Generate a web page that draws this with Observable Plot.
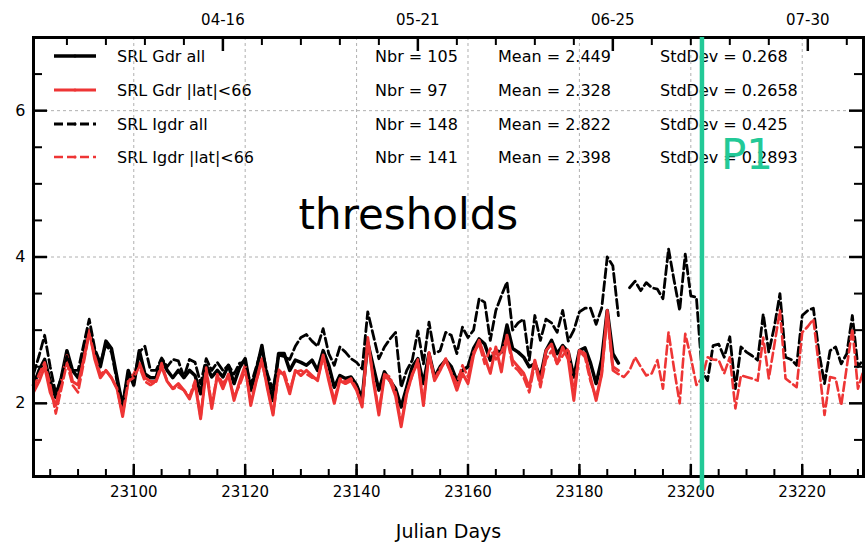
<!DOCTYPE html>
<html>
<head>
<meta charset="utf-8">
<script src="https://cdn.jsdelivr.net/npm/d3@7"></script>
<script src="https://cdn.jsdelivr.net/npm/@observablehq/plot@0.6"></script>
<style>
  html, body { margin: 0; padding: 0; background: #fff; }
  #chart svg { display: block; }
</style>
</head>
<body>
<div id="chart"></div>
<script>
// ---------- data ----------
const gdrStart = 23082;   // first day of the Gdr series
const igdrStart = 23082;  // first day of the Igdr series

const gdrAll = [
  2.25, 2.45, 2.6, 2.3, 2.08, 2.35, 2.72, 2.45, 2.35, 2.65, 3.0, 2.7, 2.5, 2.85, 2.75, 2.35, 1.95, 2.45, 2.25, 2.72, 2.4, 2.35, 2.35, 2.6, 2.45, 2.35,
  2.45, 2.35, 2.45, 2.38, 2.13, 2.52, 2.36, 2.45, 2.36, 2.52, 2.27, 2.49, 2.61, 2.18, 2.45, 2.79, 2.31, 2.04, 2.68, 2.68, 2.45, 2.59, 2.56, 2.52, 2.59,
  2.45, 2.72, 2.52, 2.22, 2.38, 2.34, 2.36, 2.25, 2.06, 2.83, 2.5, 2.18, 2.43, 2.31, 2.2, 1.95, 2.22, 2.5, 2.61, 2.27, 2.68, 2.36, 2.5, 2.59, 2.5,
  2.31, 2.45, 2.5, 2.75, 2.88, 2.81, 2.59, 2.72, 2.7, 3.07, 2.75, 2.7, 2.63, 2.5, 2.54, 2.36, 2.72, 2.86, 2.68, 2.79, 2.7, 2.36, 2.72, 2.76, 2.55, 2.27, 2.6, 3.27, 2.68, 2.55
];
const gdrLat = [
  2.15, 2.3, 2.5, 2.15, 1.97, 2.3, 2.65, 2.3, 2.25, 2.6, 3.0, 2.6, 2.35, 2.45, 2.35, 2.2, 1.82, 2.3, 2.4, 2.55, 2.35, 2.3, 2.3, 2.5, 2.3, 2.2,
  2.27, 2.18, 2.06, 2.27, 1.79, 2.45, 1.93, 2.38, 2.2, 2.4, 2.04, 2.3, 2.52, 1.97, 2.31, 2.61, 2.2, 1.84, 2.46, 2.38, 2.13, 2.45, 2.38, 2.45, 2.38,
  2.31, 2.66, 2.31, 2.0, 2.31, 2.27, 2.31, 2.18, 1.95, 2.9, 2.31, 1.84, 2.38, 2.31, 2.1, 1.68, 2.13, 2.4, 2.56, 1.97, 2.68, 2.31, 2.45, 2.61, 2.4,
  2.18, 2.41, 2.27, 2.66, 2.86, 2.63, 2.41, 2.77, 2.43, 2.93, 2.59, 2.5, 2.41, 2.22, 2.59, 2.27, 2.72, 2.81, 2.54, 2.77, 2.6, 2.04, 2.72, 2.68, 2.35, 2.04, 2.4, 3.27, 2.5, 2.45
];
const igdrAll = [
  2.4, 2.65, 2.93, 2.5, 2.13, 2.35, 2.65, 2.45, 2.45, 2.8, 3.15, 2.75, 2.55, 2.8, 2.7, 2.3, 2.0, 2.4, 2.3, 2.7, 2.78, 2.45, 2.45, 2.62, 2.5, 2.6,
  2.58, 2.36, 2.6, 2.56, 2.27, 2.61, 2.45, 2.56, 2.45, 2.52, 2.4, 2.55, 2.56, 2.25, 2.5, 2.75, 2.4, 2.18, 2.66, 2.64, 2.6, 2.78, 2.9, 2.94, 2.85,
  2.78, 3.02, 2.68, 2.52, 2.77, 2.7, 2.61, 2.56, 2.47, 3.25, 2.93, 2.61, 2.77, 2.88, 2.97, 2.22, 2.45, 2.59, 2.99, 2.54, 3.11, 2.68, 2.72, 2.97, 2.93,
  2.68, 3.04, 2.9, 3.0, 3.43, 3.38, 2.86, 3.27, 3.47, 3.66, 3.0, 3.1, 3.15, 2.59, 3.2, 2.86, 3.15, 3.1, 2.97, 3.27, 2.85, 3.0, 3.25, 3.3, 3.3, 3.08, 3.3, 4.0, 3.88, 3.2,
  null, 3.58, 3.67, 3.54, 3.65, 3.58, 3.56, 3.43, 4.11, 3.68, 3.27, 4.04, 3.47, 3.45, 2.45, 2.31, 2.79, 2.81, 2.63, 2.91, 2.2,
  2.77, 2.7, 2.65, 2.59, 3.22, 2.7, 3.05, 3.5, 2.63, 2.6, 2.52, 3.2, 3.27, 3.3, 2.7, 2.27, 2.72, 2.77, 2.54, 2.68, 3.2, 2.5, 2.6
];
const igdrLat = [
  2.2, 2.4, 2.56, 2.25, 1.86, 2.2, 2.55, 2.25, 2.15, 2.55, 2.95, 2.65, 2.4, 2.45, 2.35, 2.2, 1.85, 2.3, 2.35, 2.5, 2.3, 2.25, 2.3, 2.55, 2.3, 2.2,
  2.22, 2.18, 2.09, 2.31, 1.81, 2.49, 1.97, 2.4, 2.27, 2.38, 2.09, 2.25, 2.45, 2.04, 2.31, 2.56, 2.22, 1.86, 2.4, 2.43, 2.18, 2.43, 2.45, 2.4, 2.35,
  2.34, 2.62, 2.35, 2.04, 2.34, 2.3, 2.34, 2.2, 1.97, 2.85, 2.35, 1.88, 2.4, 2.36, 2.15, 1.72, 2.15, 2.38, 2.6, 2.0, 2.7, 2.33, 2.48, 2.57, 2.42,
  2.27, 2.52, 2.36, 2.7, 2.81, 2.54, 2.75, 2.6, 2.7, 2.9, 2.52, 2.45, 2.35, 2.15, 2.54, 2.22, 2.6, 2.72, 2.54, 2.65, 2.75, 2.13, 2.72, 2.63, 2.3, 2.08, 2.4, 3.2, 2.45, 2.4,
  2.36, 2.45, 2.63, 2.5, 2.38, 2.41, 2.59, 2.2, 2.97, 2.47, 2.0, 2.95, 2.63, 2.25, 2.34, 2.63, 2.6, 2.59, 2.41, 2.63, 1.93,
  2.38, 2.36, 2.34, 2.31, 2.9, 2.34, 2.8, 3.27, 2.34, 2.28, 2.22, 2.97, 3.05, 3.15, 2.5, 1.84, 2.36, 2.34, 1.97, 2.5, 3.02, 2.2, 2.45
];

const seriesNames = ["SRL Gdr all", "SRL Gdr |lat|<66", "SRL Igdr all", "SRL Igdr |lat|<66"];
const nbrTexts = ["Nbr = 105", "Nbr = 97", "Nbr = 148", "Nbr = 141"];
const meanTexts = ["Mean = 2.449", "Mean = 2.328", "Mean = 2.822", "Mean = 2.398"];
const stdTexts = ["StdDev = 0.268", "StdDev = 0.2658", "StdDev = 0.425", "StdDev = 0.2893"];

const xLabelTicks = [23100, 23120, 23140, 23160, 23180, 23200, 23220];
const xMinorTicks = d3.range(23085, 23231, 5);
const dateTicks = [23116, 23151, 23186, 23221];
const dateLabels = ["04-16", "05-21", "06-25", "07-30"];
const topMinorTicks = d3.range(23088, 23231, 7);
const yLabelTicks = [2, 4, 6];
const yMinorTicks = d3.range(1.5, 7, 0.5);
const p1Day = 23202;
const xDomain = [23082, 23231];
const yDomain = [1, 7];

// ---------- styles ----------
const RED = "#ee3535";
const GREEN = "#22c997";
const styles = [
  {stroke: "black", strokeWidth: 3.5, dash: null},
  {stroke: RED, strokeWidth: 3, dash: null},
  {stroke: "black", strokeWidth: 2.8, dash: "9,4"},
  {stroke: RED, strokeWidth: 2.6, dash: "9,4"}
];

const toRows = (arr, start) => arr.map((v, i) => ({day: start + i, v}));
const rowsList = [toRows(gdrAll, gdrStart), toRows(gdrLat, gdrStart), toRows(igdrAll, igdrStart), toRows(igdrLat, igdrStart)];

const W = 865, H = 547, mT = 37, mB = 71, mL = 33, mR = 2;
const pW = W - mL - mR, pH = H - mT - mB;
const FONT = "DejaVu Sans";

const lineMarks = rowsList.map((rows, i) => Plot.lineY(rows, {
  x: "day", y: "v", stroke: styles[i].stroke, strokeWidth: styles[i].strokeWidth,
  strokeDasharray: styles[i].dash, strokeLinejoin: "round"
}));

const topMajorSet = new Set(dateTicks);
const yMajorSet = new Set(yLabelTicks);
const yMinorOnly = yMinorTicks.filter(d => !yMajorSet.has(d));

const chart = Plot.plot({
  width: W, height: H,
  marginTop: mT, marginBottom: mB, marginLeft: mL, marginRight: mR,
  x: {domain: xDomain},
  y: {domain: yDomain},
  style: {fontFamily: FONT, fontSize: "15px", background: "white", color: "black"},
  marks: [
    Plot.gridX(xLabelTicks, {stroke: "#b0b0b0", strokeOpacity: 1, strokeDasharray: "3,3", strokeWidth: 1}),
    Plot.gridY(yLabelTicks, {stroke: "#b0b0b0", strokeOpacity: 1, strokeDasharray: "3,3", strokeWidth: 1}),
    ...lineMarks,
    Plot.text(["thresholds"], {x: 23149.3, y: 4.56, text: d => d, fill: "black", fontSize: 42, fontFamily: FONT}),
    // inward ticks: bottom
    Plot.tickX(xMinorTicks, {x: d => d, stroke: "black", strokeWidth: 2, insetTop: pH - 7}),
    Plot.tickX(xLabelTicks, {x: d => d, stroke: "black", strokeWidth: 2.5, insetTop: pH - 12}),
    // inward ticks: top
    Plot.tickX(topMinorTicks.filter(d => !topMajorSet.has(d)), {x: d => d, stroke: "black", strokeWidth: 2, insetBottom: pH - 8}),
    Plot.tickX(dateTicks, {x: d => d, stroke: "black", strokeWidth: 2.5, insetBottom: pH - 14}),
    // inward ticks: left / right
    Plot.tickY(yMinorOnly, {y: d => d, stroke: "black", strokeWidth: 2, insetRight: pW - 9}),
    Plot.tickY(yLabelTicks, {y: d => d, stroke: "black", strokeWidth: 2.5, insetRight: pW - 14}),
    Plot.tickY(yMinorOnly, {y: d => d, stroke: "black", strokeWidth: 2, insetLeft: pW - 9}),
    Plot.tickY(yLabelTicks, {y: d => d, stroke: "black", strokeWidth: 2.5, insetLeft: pW - 14}),
    Plot.frame({stroke: "black", strokeWidth: 3}),
    Plot.axisX({anchor: "bottom", ticks: xLabelTicks, tickSize: 0, tickPadding: 10, tickFormat: d => String(d), label: null, fontSize: 15}),
    Plot.axisX({anchor: "top", ticks: dateTicks, tickSize: 0, tickPadding: 13, tickFormat: d => dateLabels[dateTicks.indexOf(d)], label: null, fontSize: 15}),
    Plot.axisY({anchor: "left", ticks: yLabelTicks, tickSize: 0, tickPadding: 8, tickFormat: d => String(d), label: null, fontSize: 16}),
    Plot.text(["Julian Days"], {frameAnchor: "bottom", dy: 61, text: d => d, fontSize: 19, fontFamily: FONT, fill: "black"}),
    // P1 marker last so it sits on top
    Plot.ruleX([p1Day], {stroke: GREEN, strokeWidth: 4.5, insetBottom: -14}),
    Plot.text(["P1"], {x: p1Day, y: 5.38, text: d => d, dx: 19, textAnchor: "start", fill: GREEN, fontSize: 42, fontFamily: FONT})
  ]
});

document.getElementById("chart").appendChild(chart);

// legend (drawn onto the same svg, placed beneath the P1 marker)
const svg = d3.select(chart);
const rowY = [56, 90, 124, 157];
const cols = [
  {x: 117, texts: seriesNames},
  {x: 375, texts: nbrTexts},
  {x: 498, texts: meanTexts},
  {x: 660, texts: stdTexts}
];
const lg = svg.append("g").attr("font-family", FONT).attr("font-size", 16).attr("text-anchor", "start");
rowY.forEach((y, i) => {
  lg.append("line").attr("x1", 54).attr("x2", 96).attr("y1", y).attr("y2", y)
    .attr("stroke", styles[i].stroke).attr("stroke-width", styles[i].strokeWidth)
    .attr("stroke-dasharray", styles[i].dash);
  lg.append("circle").attr("cx", 75).attr("cy", y).attr("r", 1.6).attr("fill", styles[i].stroke);
  cols.forEach(c => {
    lg.append("text").attr("x", c.x).attr("y", y).attr("dy", "0.36em")
      .attr("text-anchor", "start").attr("fill", "black").text(c.texts[i]);
  });
});
lg.lower();
svg.select("rect, style").raise; // no-op safeguard
// keep the white background behind everything
svg.selectAll(":scope > style").lower();
</script>
</body>
</html>
